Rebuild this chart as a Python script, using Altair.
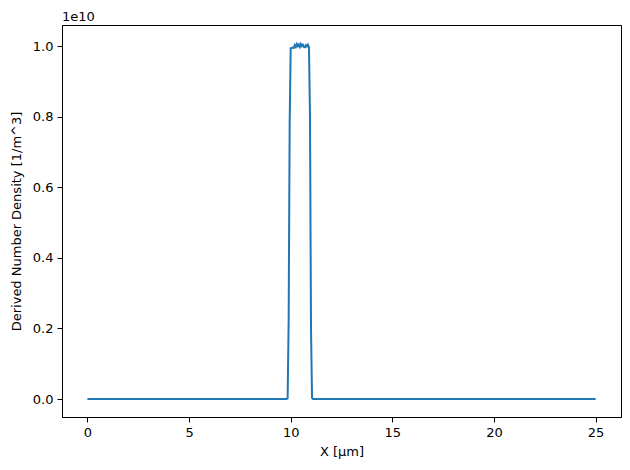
import altair as alt
import pandas as pd

# X position [µm] and derived number density [1/m^3]
x_um = [0.0, 5.0, 9.8, 9.85, 9.9, 9.95, 10.0, 10.05, 10.1, 10.15, 10.2, 10.25, 10.3,
        10.35, 10.4, 10.45, 10.5, 10.55, 10.6, 10.65, 10.7, 10.75, 10.8, 10.85,
        10.9, 10.95, 11.0, 11.05, 11.1, 15.0, 20.0, 25.0]
density = [0.0, 0.0, 0.0, 0.002e10, 0.22e10, 0.78e10, 0.994e10, 0.995e10, 0.996e10,
           0.995e10, 1.003e10, 0.998e10, 1.006e10, 1.0e10, 1.005e10, 0.998e10,
           1.006e10, 1.0e10, 1.004e10, 0.998e10, 0.997e10, 1.003e10, 0.999e10,
           1.004e10, 0.998e10, 0.80e10, 0.20e10, 0.003e10, 0.0, 0.0, 0.0, 0.0]

x_ticks = [0, 5, 10, 15, 20, 25]
y_ticks = [0.0, 0.2e10, 0.4e10, 0.6e10, 0.8e10, 1.0e10]

df = pd.DataFrame({"x": x_um, "y": density})

FONT = "DejaVu Sans"

chart = alt.Chart(df).mark_line(color="#1f77b4", strokeWidth=2).encode(
    x=alt.X("x:Q", scale=alt.Scale(domain=[-1.25, 26.25], nice=False, zero=False),
            axis=alt.Axis(values=x_ticks, title="X [µm]", format="d",
                          grid=False, titlePadding=6)),
    y=alt.Y("y:Q", scale=alt.Scale(domain=[-0.051e10, 1.06e10], nice=False, zero=False),
            axis=alt.Axis(values=y_ticks, title="Derived Number Density [1/m^3]",
                          labelExpr="format(datum.value / 1e10, '.1f')",
                          grid=False, titlePadding=9)),
).properties(
    width=559, height=392,
    autosize=alt.AutoSizeParams(type="none"),
    padding={"left": 54, "top": 17, "right": 1, "bottom": 45},
    background="white",
    title=alt.TitleParams("1e10", anchor="start", frame="group", fontSize=13, font=FONT,
                          fontWeight="normal", color="black", offset=1),
).configure_view(
    stroke="black", strokeWidth=1
).configure_axis(
    domainColor="black", domainWidth=1, tickColor="black", tickSize=5, tickWidth=1,
    labelFont=FONT, labelFontSize=13, labelColor="black", labelPadding=4,
    titleFont=FONT, titleFontSize=13, titleFontWeight="normal", titleColor="black",
)

chart.save("out.html", embed_options={"renderer": "svg", "actions": False})
